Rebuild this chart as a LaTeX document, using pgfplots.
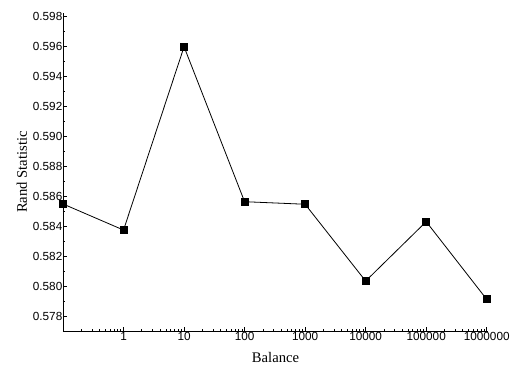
\documentclass[border=0pt]{standalone}
\usepackage{fontspec}
\setmainfont{Liberation Serif}
\newfontfamily\arial{Liberation Sans}
\usepackage{pgfplots}
\pgfplotsset{compat=1.18}
\begin{document}
\begin{tikzpicture}
\begin{axis}[
  scale only axis,
  width=425bp, height=318bp,
  xmode=log,
  xmin=0.1, xmax=1.05e6,
  ymin=0.577, ymax=0.5982,
  axis x line*=bottom,
  axis y line*=left,
  axis line style={line width=0.8bp},
  tick align=inside,
  major tick length=4bp,
  minor tick length=2bp,
  tick style={black, line width=0.6bp},
  xtick={1,10,100,1000,10000,100000,1000000},
  xticklabels={1,10,100,1000,10000,100000,1000000},
  minor xtick={0.2,0.3,0.4,0.5,0.6,0.7,0.8,0.9,
               2,3,4,5,6,7,8,9,
               20,30,40,50,60,70,80,90,
               200,300,400,500,600,700,800,900,
               2000,3000,4000,5000,6000,7000,8000,9000,
               20000,30000,40000,50000,60000,70000,80000,90000,
               200000,300000,400000,500000,600000,700000,800000,900000},
  ytick={0.578,0.580,0.582,0.584,0.586,0.588,0.590,0.592,0.594,0.596,0.598},
  minor ytick={0.579,0.581,0.583,0.585,0.587,0.589,0.591,0.593,0.595,0.597},
  /pgf/number format/assume math mode=true,
  yticklabel style={inner sep=0.5bp,
    /pgf/number format/fixed,
    /pgf/number format/fixed zerofill,
    /pgf/number format/precision=3},
  tick label style={font=\arial\fontsize{11.8}{13}\selectfont},
  xticklabel style={inner sep=1bp},
  xlabel={Balance},
  ylabel={Rand Statistic},
  label style={font=\fontsize{14.7}{16}\selectfont},
  xlabel style={at={(axis description cs:0.5,-0.0818)}, anchor=center},
  ylabel style={at={(axis description cs:-0.0965,0.5)}, anchor=center},
]
\addplot[black, line width=0.8bp, mark=square*, mark size=3.5bp,
         mark options={solid, fill=black}]
  coordinates {
    (0.1,0.58547)
    (1,0.58373)
    (10,0.59595)
    (100,0.58562)
    (1000,0.58545)
    (10000,0.58033)
    (100000,0.58429)
    (1000000,0.57911)
  };
\coordinate (bl) at (rel axis cs:0,0);
\end{axis}
\path (bl) ++(-63bp,-40bp);
\path (bl) ++(452bp,331bp);
\end{tikzpicture}
\end{document}
